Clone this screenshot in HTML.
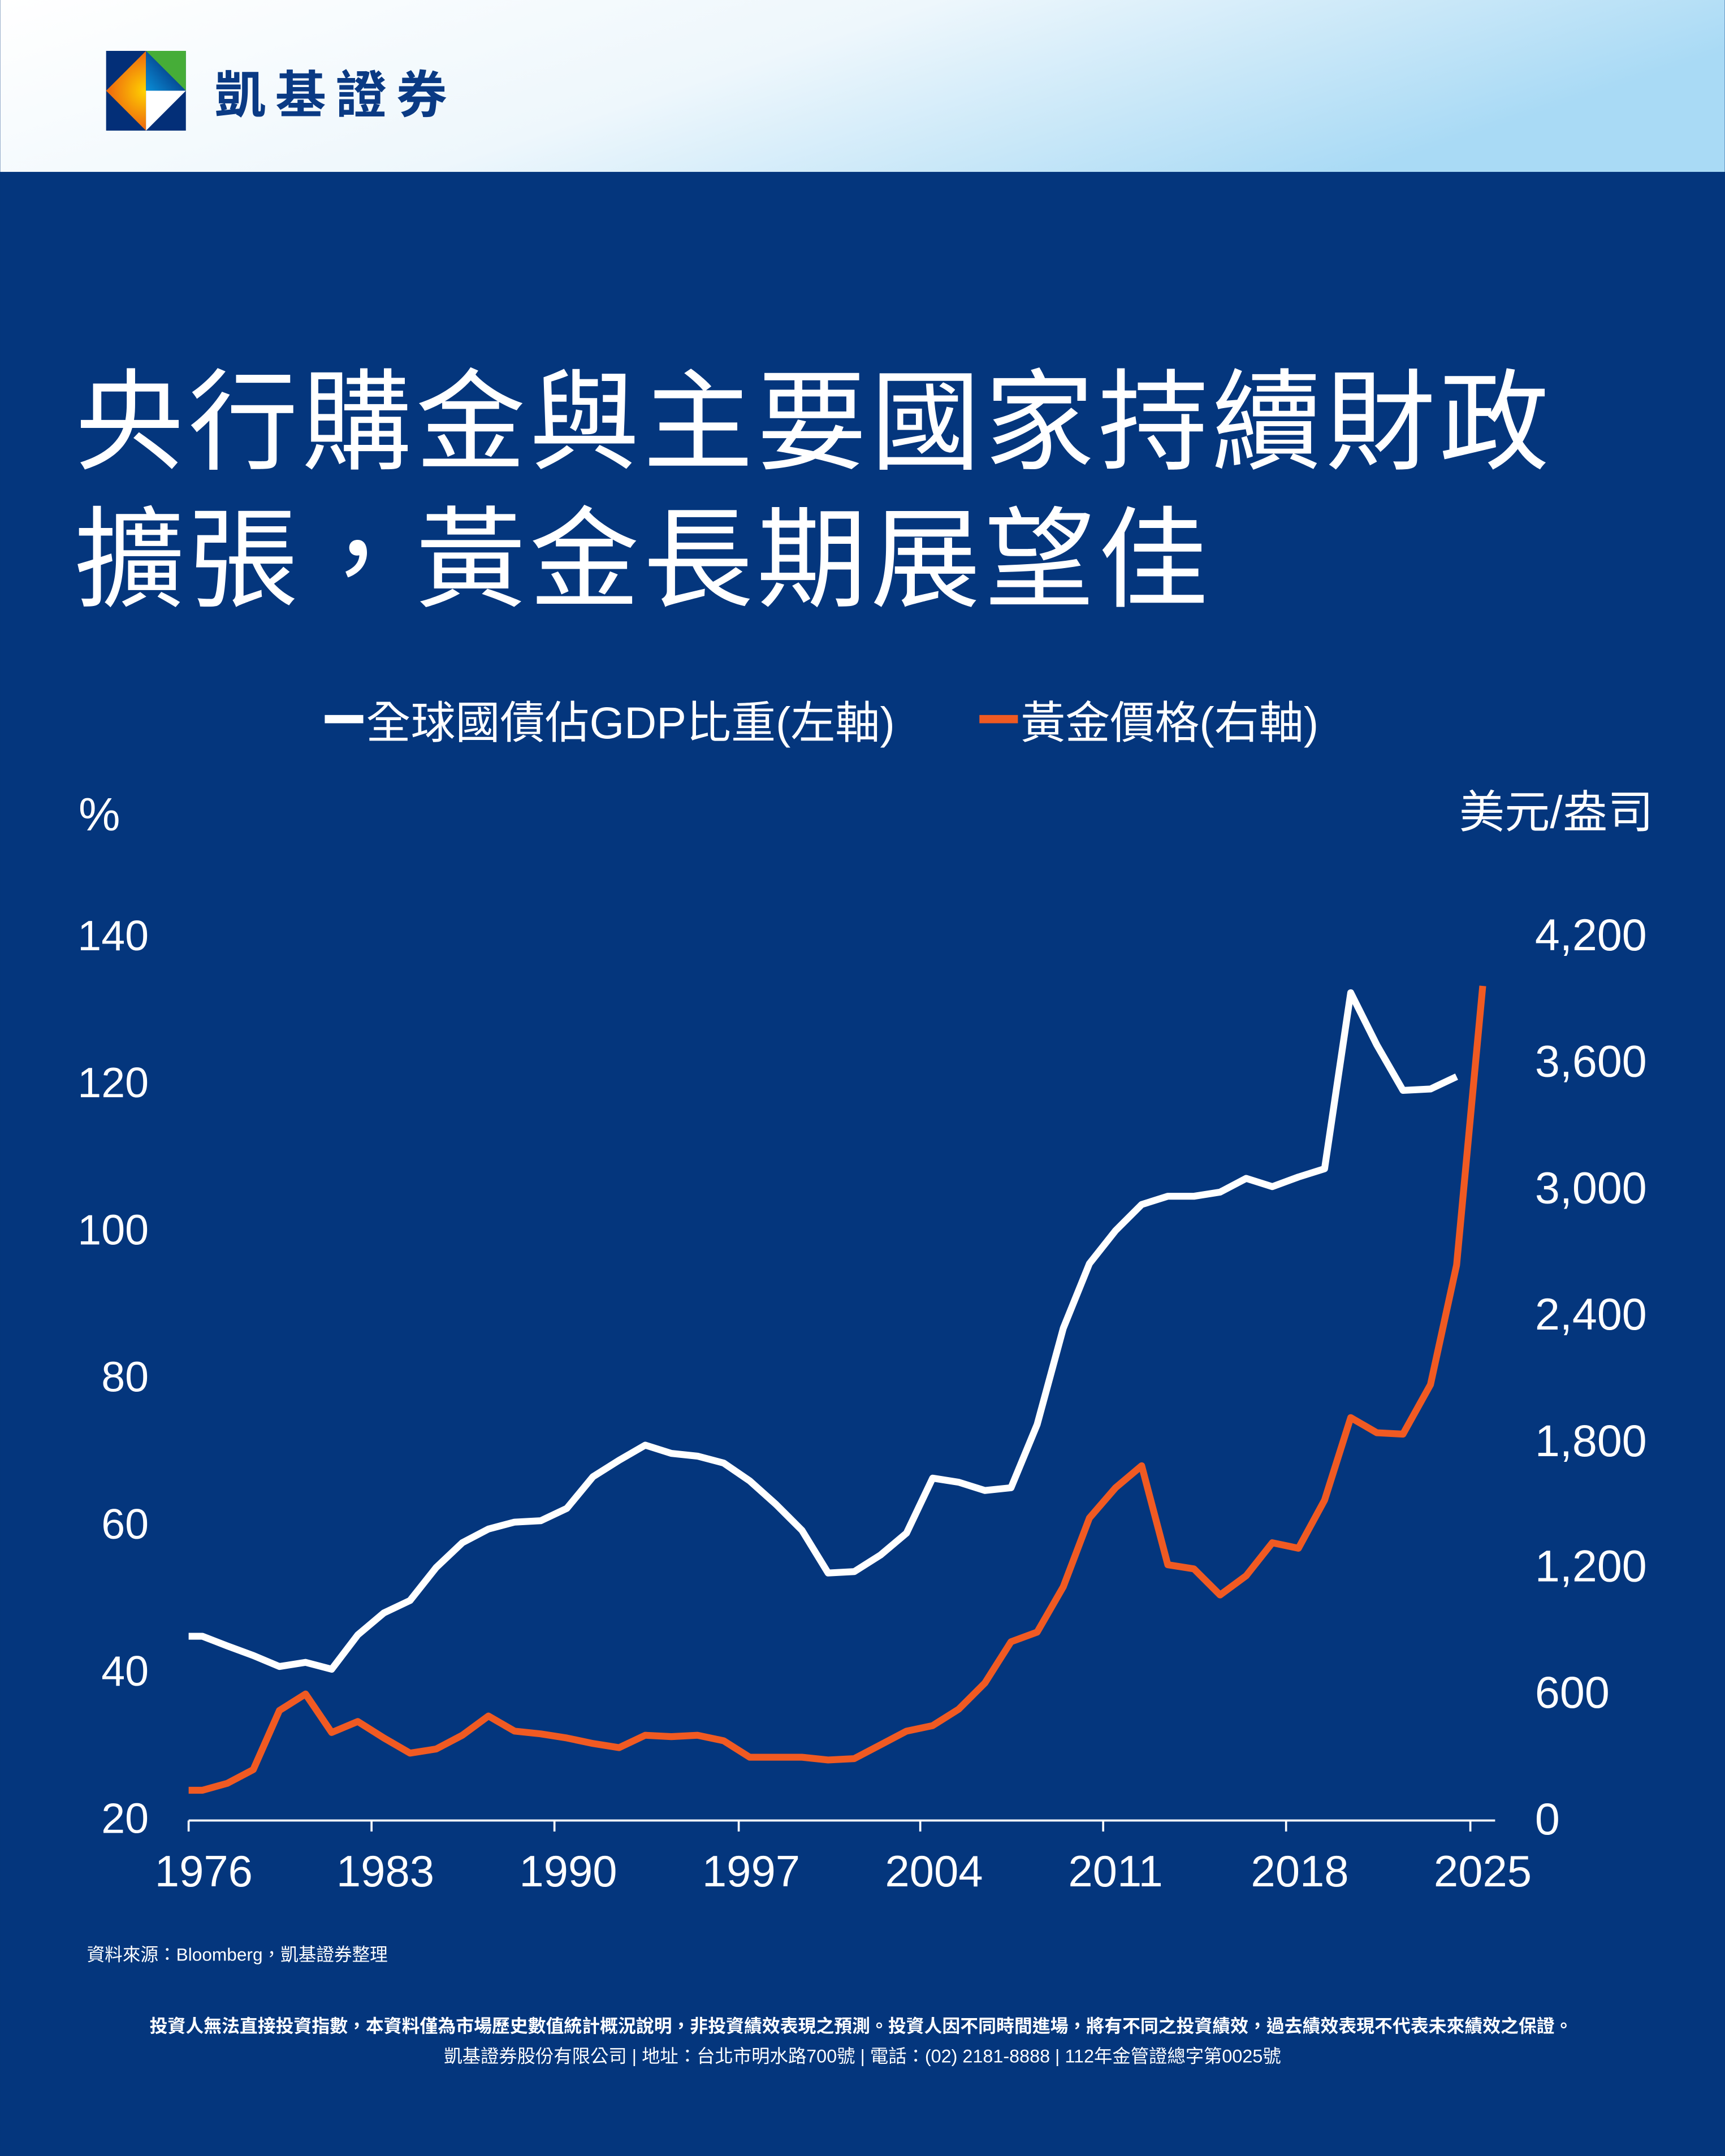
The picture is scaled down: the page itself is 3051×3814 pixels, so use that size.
<!DOCTYPE html>
<html><head><meta charset="utf-8"><style>
html,body{margin:0;padding:0;background:#04367d;}
svg{display:block}
text{font-family:"Liberation Sans","Noto Sans CJK TC",sans-serif;fill:#fff}
</style></head><body>
<svg width="3051" height="3814" viewBox="0 0 1254 1568" xmlns="http://www.w3.org/2000/svg">
<defs>
<linearGradient id="hd" x1="0" y1="0" x2="1" y2="0.3"><stop offset="0" stop-color="#ffffff"/><stop offset="0.5" stop-color="#eef7fc"/><stop offset="1" stop-color="#a9daf5"/></linearGradient>
<radialGradient id="og" cx="106" cy="66" r="35" gradientUnits="userSpaceOnUse"><stop offset="0" stop-color="#ffd400"/><stop offset="1" stop-color="#e94e12"/></radialGradient>
<linearGradient id="bg2" x1="106" y1="66" x2="130" y2="45" gradientUnits="userSpaceOnUse"><stop offset="0" stop-color="#0a8fd8"/><stop offset="1" stop-color="#032d78"/></linearGradient>
</defs>
<rect width="1254" height="1568" fill="#04367d"/>
<rect width="1254" height="125" fill="url(#hd)"/>
<rect x="77" y="37" width="58" height="58" fill="#032f78"/>
<polygon points="106,37 77,66 106,95" fill="url(#og)"/>
<polygon points="106,37 135,37 135,66" fill="#46ad38"/>
<polygon points="106,37 135,66 106,66" fill="url(#bg2)"/>
<polygon points="106,66 135,66 106,95" fill="#fff"/>
<text x="156" y="82" font-size="37" style="fill:#0a3a84;font-weight:bold" letter-spacing="7">凱基證券</text>
<text x="54" y="335" font-size="80" letter-spacing="2.7">央行購金與主要國家持續財政</text>
<text x="54" y="435" font-size="80" letter-spacing="2.7">擴張，黃金長期展望佳</text>
<rect x="236" y="520" width="28" height="6" fill="#fff"/>
<text x="266" y="537" font-size="32.5">全球國債佔GDP比重(左軸)</text>
<rect x="712" y="520" width="28" height="6" fill="#f05a22"/>
<text x="742" y="537" font-size="32.5">黃金價格(右軸)</text>
<text x="57" y="604" font-size="34">%</text>
<text x="1202" y="602" font-size="33" text-anchor="end">美元/盎司</text>
<g font-size="31" text-anchor="end">
<text x="108" y="691">140</text><text x="108" y="798">120</text><text x="108" y="905">100</text><text x="108" y="1012">80</text><text x="108" y="1119">60</text><text x="108" y="1226">40</text><text x="108" y="1333">20</text>
</g>
<g font-size="32.5">
<text x="1116" y="691">4,200</text><text x="1116" y="783">3,600</text><text x="1116" y="875">3,000</text><text x="1116" y="967">2,400</text><text x="1116" y="1059">1,800</text><text x="1116" y="1150">1,200</text><text x="1116" y="1242">600</text><text x="1116" y="1334">0</text>
</g>
<line x1="137" y1="1324" x2="1087" y2="1324" stroke="#fff" stroke-width="1.5"/>
<g stroke="#fff" stroke-width="1.5">
<line x1="137" y1="1324" x2="137" y2="1332"/><line x1="270" y1="1324" x2="270" y2="1332"/><line x1="403" y1="1324" x2="403" y2="1332"/><line x1="537" y1="1324" x2="537" y2="1332"/><line x1="669" y1="1324" x2="669" y2="1332"/><line x1="802" y1="1324" x2="802" y2="1332"/><line x1="935" y1="1324" x2="935" y2="1332"/><line x1="1069" y1="1324" x2="1069" y2="1332"/>
</g>
<g font-size="32" text-anchor="middle">
<text x="148" y="1372">1976</text><text x="280" y="1372">1983</text><text x="413" y="1372">1990</text><text x="546" y="1372">1997</text><text x="679" y="1372">2004</text><text x="811" y="1372">2011</text><text x="945" y="1372">2018</text><text x="1078" y="1372">2025</text>
</g>
<polyline fill="none" stroke="#fff" stroke-width="5" stroke-linejoin="round" points="137,1190 147,1190 165,1197 184,1204 203,1212 222,1209 241,1214 260,1189 279,1173 298,1164 317,1140 336,1122 355,1112 374,1107 393,1106 412,1097 431,1074 450,1062 469,1051 488,1057 507,1059 526,1064 545,1077 564,1094 583,1113 602,1144 621,1143 640,1131 659,1115 678,1075 697,1078 716,1084 735,1082 754,1036 773,966 792,919 811,895 830,876 849,870 868,870 887,867 906,857 925,863 944,856 963,850 982,722 1001,760 1020,793 1040,792 1059,783"/>
<polyline fill="none" stroke="#f05a22" stroke-width="5" stroke-linejoin="round" points="137,1302 147,1302 165,1297 184,1287 203,1244 222,1232 241,1260 260,1252 279,1264 298,1275 317,1272 336,1262 355,1248 374,1259 393,1261 412,1264 431,1268 450,1271 469,1262 488,1263 507,1262 526,1266 545,1278 564,1278 583,1278 602,1280 621,1279 640,1269 659,1259 678,1255 697,1243 716,1224 735,1194 754,1187 773,1154 792,1104 811,1082 830,1066 849,1138 868,1141 887,1160 906,1146 925,1122 944,1126 963,1091 982,1031 1001,1042 1020,1043 1040,1007 1059,920 1078,717"/>
<text x="63" y="1426" font-size="13">資料來源：Bloomberg，凱基證券整理</text>
<text x="626" y="1478" font-size="13.1" text-anchor="middle" font-weight="bold">投資人無法直接投資指數，本資料僅為市場歷史數值統計概況說明，非投資績效表現之預測。投資人因不同時間進場，將有不同之投資績效，過去績效表現不代表未來績效之保證。</text>
<text x="627" y="1500" font-size="13.3" text-anchor="middle">凱基證券股份有限公司 | 地址：台北市明水路700號 | 電話：(02) 2181-8888 | 112年金管證總字第0025號</text>
</svg>
</body></html>
